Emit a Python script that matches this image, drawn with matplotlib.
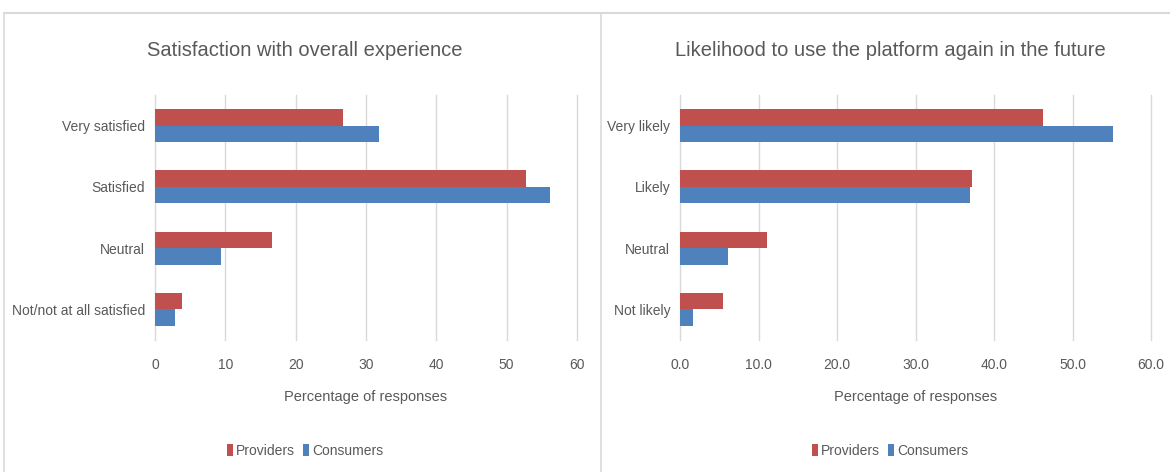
import matplotlib
matplotlib.use("Agg")
import matplotlib.pyplot as plt
from matplotlib.lines import Line2D
import numpy as np

plt.rcParams['font.family'] = ['Liberation Sans', 'DejaVu Sans']

# Data
sat_categories = ["Very satisfied", "Satisfied", "Neutral", "Not/not at all satisfied"]
sat_providers = [26.8, 52.8, 16.6, 3.9]
sat_consumers = [31.9, 56.1, 9.4, 2.8]

lik_categories = ["Very likely", "Likely", "Neutral", "Not likely"]
lik_providers = [46.3, 37.2, 11.1, 5.5]
lik_consumers = [55.1, 37.0, 6.1, 1.7]

titles = ["Satisfaction with overall experience", "Likelihood to use the platform again in the future"]
xlabel = "Percentage of responses"
series_names = ["Providers", "Consumers"]
tick_values = [0, 10, 20, 30, 40, 50, 60]

RED = "#C0504D"
BLUE = "#4F81BD"
TXT = "#595959"
GRID = "#D9D9D9"

W, H = 1170, 472
fig = plt.figure(figsize=(W / 100, H / 100), dpi=100)

# panel borders
border = "#D9D9D9"
fig.add_artist(Line2D([4 / W, 1], [1 - 13 / H, 1 - 13 / H], color=border, lw=1.5, transform=fig.transFigure))
fig.add_artist(Line2D([4 / W, 4 / W], [0, 1 - 13 / H], color=border, lw=1.2, transform=fig.transFigure))
fig.add_artist(Line2D([601 / W, 601 / W], [0, 1 - 13 / H], color=border, lw=1.2, transform=fig.transFigure))

panels = [
    dict(cats=sat_categories, prov=sat_providers, cons=sat_consumers, x0=155, x1=577,
         fmt="{:.0f}", pcenter=305, title=titles[0]),
    dict(cats=lik_categories, prov=lik_providers, cons=lik_consumers, x0=680, x1=1151,
         fmt="{:.1f}", pcenter=890, title=titles[1]),
]

y_top, y_bot = 95, 340
bh = 0.27
for p in panels:
    ax = fig.add_axes([p["x0"] / W, 1 - y_bot / H, (p["x1"] - p["x0"]) / W, (y_bot - y_top) / H])
    y = np.arange(len(p["cats"]))
    ax.barh(y - bh / 2, p["prov"], height=bh, color=RED, label=series_names[0], zorder=3)
    ax.barh(y + bh / 2, p["cons"], height=bh, color=BLUE, label=series_names[1], zorder=3)
    ax.set_ylim(3.5, -0.5)
    ax.set_xlim(0, 60)
    ax.set_xticks(tick_values)
    ax.set_xticklabels([p["fmt"].format(v) for v in tick_values])
    ax.set_yticks(y)
    ax.set_yticklabels(p["cats"])
    ax.tick_params(length=0, labelsize=10, colors=TXT)
    ax.tick_params(axis='y', pad=7)
    ax.tick_params(axis='x', pad=13)
    for s in ax.spines.values():
        s.set_visible(False)
    ax.grid(axis='x', color=GRID, lw=1, zorder=0)
    for gl in ax.get_xgridlines():
        gl.set_clip_on(False)
    ax.set_axisbelow(True)
    ax.set_xlabel(xlabel, fontsize=10.5, color=TXT, labelpad=13)
    fig.text(p["pcenter"] / W, 1 - 50 / H, p["title"], ha='center', va='center', fontsize=14.5, color=TXT)
    handles, labels = ax.get_legend_handles_labels()
    fig.legend(handles, labels, loc='center', bbox_to_anchor=(p["pcenter"] / W, 1 - 451 / H),
               ncol=2, frameon=False, fontsize=10, handlelength=0.45, handleheight=0.9,
               handletextpad=0.2, columnspacing=0.6, labelcolor=TXT)

fig.savefig("out.png", dpi=100)
